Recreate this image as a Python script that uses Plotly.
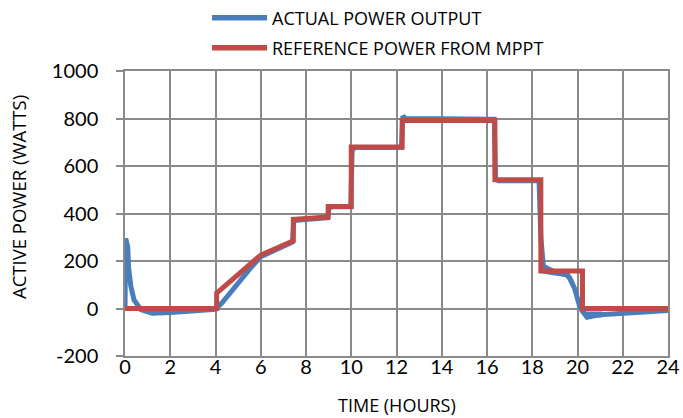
import plotly.graph_objects as go

# Reference power from MPPT (step profile)
ref_hours = [0, 4.05, 4.05, 6.0, 7.44, 7.44, 8.98, 8.98, 10.0, 10.0, 12.25, 12.25,
             16.35, 16.35, 18.38, 18.38, 20.22, 20.22, 24]
ref_power = [0, 0, 65, 225, 285, 375, 385, 430, 430, 680, 680, 792,
             792, 542, 542, 158, 158, 0, 0]

# Actual power output (centre of the trace)
act_hours = [0, 0.03, 0.12, 0.16, 0.26, 0.4, 0.7, 1.2, 2.0, 3.0,
             4.0, 4.3, 5.0, 5.5, 6.0, 7.4, 7.46, 7.6, 8.96, 9.02,
             9.2, 9.98, 10.04, 10.2, 12.22, 12.28, 12.4, 13.5, 15.0, 16.32,
             16.38, 16.5, 18.3, 18.38, 18.5, 19.0, 19.5, 19.65, 19.87, 20.09,
             20.38, 20.82, 21.85, 23.0, 24]
act_power = [0, 295, 260, 170, 92, 36, -5, -20, -17, -10,
             -3, 25, 110, 165, 218, 280, 370, 372, 382, 425,
             428, 428, 670, 678, 678, 810, 800, 798, 797, 797,
             545, 538, 538, 300, 167, 152, 142, 130, 85, 11,
             -30, -27, -20, -12, -8]

# Oscillation envelope of the actual output during the evening transient
band_hours = [18.42, 18.62, 19.0, 19.65, 19.94, 20.16, 20.38, 21.1,
              21.1, 20.82, 20.38, 20.09, 19.87, 19.5, 18.9, 18.42]
band_power = [190, 183, 165, 148, 92, 8, -13, -13,
              -37, -40, -48, -13, 65, 133, 140, 148]

series_names = ["ACTUAL POWER OUTPUT", "REFERENCE POWER FROM MPPT"]
series_colors = ["#4a7ebb", "#be4b48"]

x_ticks = list(range(0, 25, 2))
y_ticks = list(range(-200, 1001, 200))
y_tick_labels = [str(v) for v in y_ticks]

TICK_FONT = "Lato, 'Open Sans', sans-serif"
TEXT_FONT = "'Open Sans', Lato, sans-serif"
GRID = "#8a8a8a"

W, H = 683, 418
ML, MR, MT, MB = 125, 15, 71, 62
PW, PH = W - ML - MR, H - MT - MB


def px_x(px):
    return (px - ML) / PW


def px_y(py):
    return (H - MB - py) / PH


fig = go.Figure()
fig.add_trace(go.Scatter(x=band_hours, y=band_power, mode="lines", fill="toself",
                         fillcolor=series_colors[0], line=dict(width=0),
                         showlegend=False, hoverinfo="skip"))
fig.add_trace(go.Scatter(x=act_hours, y=act_power, mode="lines",
                         name=series_names[0],
                         line=dict(color=series_colors[0], width=5)))
fig.add_trace(go.Scatter(x=ref_hours, y=ref_power, mode="lines",
                         name=series_names[1],
                         line=dict(color=series_colors[1], width=5)))

# legend drawn as long line samples + labels, as in the reference
shapes = []
annotations = []
for i, (name, col) in enumerate(zip(series_names, series_colors)):
    yc = 17.7 + 30 * i
    shapes.append(dict(type="line", xref="paper", yref="paper",
                       x0=px_x(212), x1=px_x(267), y0=px_y(yc), y1=px_y(yc),
                       line=dict(color=col, width=5.5)))
    annotations.append(dict(text=name, xref="paper", yref="paper",
                            x=px_x(270), y=px_y(yc), xanchor="left",
                            yanchor="middle", showarrow=False,
                            font=dict(size=18, family=TEXT_FONT, color="#000")))

annotations.append(dict(text="ACTIVE POWER (WATTS)", xref="paper", yref="paper",
                        x=px_x(18), y=px_y(197), xanchor="center",
                        yanchor="middle", textangle=-90, showarrow=False,
                        font=dict(size=18.5, family=TEXT_FONT, color="#000")))
annotations.append(dict(text="TIME (HOURS)", xref="paper", yref="paper",
                        x=0.5, y=px_y(405), xanchor="center", yanchor="middle",
                        showarrow=False,
                        font=dict(size=18, family=TEXT_FONT, color="#000")))

common = dict(tickcolor=GRID, tickwidth=1.5, gridcolor=GRID, gridwidth=1.5,
              linecolor=GRID, linewidth=1.5, zeroline=False, automargin=False)

fig.update_layout(
    width=W, height=H,
    margin=dict(l=ML, r=MR, t=MT, b=MB),
    plot_bgcolor="white", paper_bgcolor="white",
    font=dict(family=TICK_FONT, color="#000000"),
    showlegend=False,
    xaxis=dict(range=[0, 24], tickvals=x_ticks, ticks="", showgrid=True,
               showline=True, mirror=True, ticklabelstandoff=-8,
               tickfont=dict(size=20, family=TICK_FONT), **common),
    # tick marks only (labels come from the main x axis)
    xaxis2=dict(range=[0, 24], tickvals=x_ticks, ticks="outside", ticklen=5,
                overlaying="x", side="bottom", anchor="y", showgrid=False,
                showline=False, showticklabels=False, **common),
    yaxis=dict(range=[-200, 1000], tickvals=y_ticks, ticktext=y_tick_labels,
               ticks="outside", ticklen=7, showgrid=True, showline=True,
               mirror=True, ticklabelstandoff=14,
               tickfont=dict(size=20, family=TICK_FONT), **common),
    shapes=shapes,
    annotations=annotations,
)

fig.write_html("out.html")
